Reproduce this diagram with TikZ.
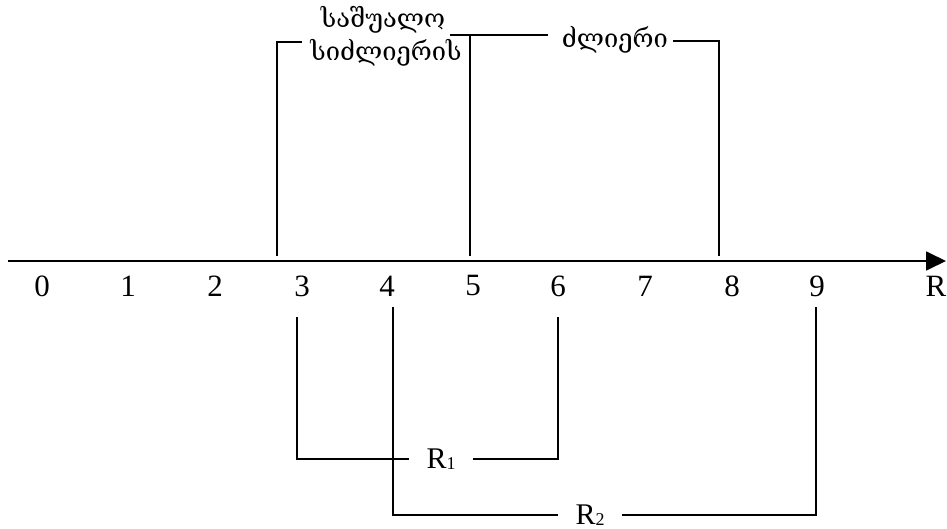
\documentclass[tikz,border=0pt]{standalone}
\usepackage{fontspec}
\setmainfont{Liberation Serif}
\newfontfamily\geo{DejaVu Serif}
\usetikzlibrary{arrows.meta}
\tikzset{
  num/.style={font=\fontsize{31}{36}\selectfont, inner sep=0pt},
  geolabel/.style={font=\geo\fontsize{25.5}{30}\selectfont, inner sep=0pt},
  rlabel/.style={font=\fontsize{30}{34}\selectfont, inner xsep=17pt, inner ysep=0pt},
  bracket/.style={line width=1.3pt},
  axis/.style={line width=1.8pt, -{Triangle[length=20pt,width=19pt]}}
}
\newcommand{\sub}[1]{\raisebox{-1pt}{\fontsize{18}{18}\selectfont #1}}
\begin{document}
\begin{tikzpicture}[x=1pt,y=-1pt]
  \useasboundingbox (0,0) rectangle (947,529);
  % axis
  \coordinate (a0) at (8,261);
  \coordinate (a1) at (946,261);
  \draw[axis] (a0) -- (a1);
  % scale values
  \foreach \v/\x in {0/42,1/128,2/215,3/302,4/387,5/473,6/558,7/645,8/732,9/817}
    \node[num] (n\v) at (\x,286) {\v};
  \node[num] (nR) at (936,286) {R};

  % upper brackets
  \coordinate (u1b) at (277,256);
  \coordinate (u1t) at (302,42);
  \node[geolabel] (mid1) at (383,20) {საშუალო};
  \node[geolabel] (mid2) at (386,53) {სიძლიერის};
  \draw[bracket] (u1b) |- (u1t);
  \coordinate (u2l) at (450,35);
  \coordinate (u2r) at (548,35);
  \coordinate (u2b) at (470,256);
  \draw[bracket] (u2l) -- (u2r);
  \draw[bracket] (u2b) -- (u2b |- u2l);
  \node[geolabel] (strong) at (615,40) {ძლიერი};
  \coordinate (u3l) at (673,41);
  \coordinate (u3b) at (719,256);
  \draw[bracket] (u3l) -| (u3b);

  % lower brackets
  \node[rlabel] (r1) at (441,459) {R\sub{1}};
  \coordinate (l1a) at (297,317);
  \coordinate (l1b) at (558,317);
  \draw[bracket] (l1a) |- (r1.west);
  \draw[bracket] (r1.east) -| (l1b);
  \node[rlabel] (r2) at (590,515) {R\sub{2}};
  \coordinate (l2a) at (393,307);
  \coordinate (l2b) at (816,307);
  \draw[bracket] (l2a) |- (r2.west);
  \draw[bracket] (r2.east) -| (l2b);
\end{tikzpicture}
\end{document}
